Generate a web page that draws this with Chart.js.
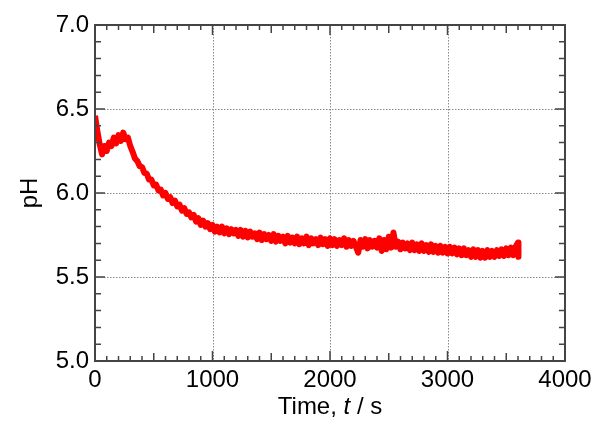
<!DOCTYPE html>
<html><head><meta charset="utf-8">
<script src="https://cdn.jsdelivr.net/npm/chart.js@4/dist/chart.umd.min.js"></script>
<style>html,body{margin:0;padding:0;background:#fff;}</style>
</head><body>
<canvas id="c" width="604" height="422"></canvas>
<script>
const timeS = [0,20,40,60,80,100,120,140,160,180,200,220,240,260,280,300,320,340,360,380,
400,420,440,460,480,500,520,540,560,580,600,620,640,660,680,700,720,740,760,780,
800,820,840,860,880,900,920,940,960,980,1000,1020,1040,1060,1080,1100,1120,1140,1160,1180,
1200,1220,1240,1260,1280,1300,1320,1340,1360,1380,1400,1420,1440,1460,1480,1500,1520,1540,1560,1580,
1600,1620,1640,1660,1680,1700,1720,1740,1760,1780,1800,1820,1840,1860,1880,1900,1920,1940,1960,1980,
2000,2020,2040,2060,2080,2100,2120,2140,2160,2180,2200,2220,2240,2260,2280,2300,2320,2340,2360,2380,
2400,2420,2440,2460,2480,2500,2520,2540,2560,2580,2600,2620,2640,2660,2680,2700,2720,2740,2760,2780,
2800,2820,2840,2860,2880,2900,2920,2940,2960,2980,3000,3020,3040,3060,3080,3100,3120,3140,3160,3180,
3200,3220,3240,3260,3280,3300,3320,3340,3360,3380,3400,3420,3440,3460,3480,3500,3520,3540,3560,3580,
3600,3604];
const pH = [6.46,6.37,6.29,6.23,6.28,6.25,6.30,6.28,6.33,6.295,6.345,6.31,6.36,6.32,6.33,6.28,6.245,6.205,6.19,6.16,
6.155,6.12,6.115,6.08,6.08,6.045,6.05,6.015,6.02,5.985,6.00,5.965,5.975,5.94,5.955,5.92,5.93,5.895,5.91,5.875,
5.885,5.855,5.87,5.83,5.85,5.81,5.835,5.80,5.82,5.785,5.81,5.77,5.80,5.765,5.80,5.76,5.79,5.755,5.785,5.76,
5.78,5.745,5.78,5.74,5.775,5.735,5.77,5.74,5.76,5.725,5.765,5.72,5.755,5.725,5.75,5.715,5.755,5.71,5.745,5.715,
5.74,5.70,5.745,5.705,5.735,5.70,5.74,5.695,5.73,5.70,5.74,5.69,5.73,5.70,5.725,5.69,5.735,5.695,5.725,5.685,
5.73,5.69,5.725,5.685,5.72,5.69,5.73,5.68,5.72,5.685,5.715,5.68,5.645,5.72,5.68,5.725,5.67,5.72,5.68,5.715,
5.675,5.73,5.655,5.72,5.665,5.74,5.675,5.765,5.68,5.71,5.665,5.705,5.67,5.70,5.66,5.705,5.66,5.695,5.655,5.70,
5.655,5.69,5.65,5.695,5.65,5.685,5.645,5.685,5.645,5.68,5.64,5.68,5.64,5.675,5.635,5.67,5.63,5.67,5.63,5.66,
5.62,5.665,5.62,5.66,5.615,5.655,5.615,5.66,5.62,5.655,5.62,5.66,5.625,5.665,5.625,5.67,5.63,5.675,5.63,5.68,
5.705,5.62];
const xTicks = [0,1000,2000,3000,4000];
const yTicks = [5.0,5.5,6.0,6.5,7.0];
const xMinorStep = 100, xMidStep = 500, yMinorStep = 0.1;

const FONT = '"Liberation Sans", Arial, sans-serif';

const framePlugin = {
  id: 'frame',
  beforeDatasetsDraw(chart) {
    const {ctx, chartArea: a, scales: {x, y}} = chart;
    ctx.save();
    ctx.strokeStyle = '#8a8a8a';
    ctx.lineWidth = 1;
    ctx.setLineDash([1.5, 1.5]);
    xTicks.slice(1, -1).forEach(v => {
      const px = Math.round(x.getPixelForValue(v)) + 0.5;
      ctx.beginPath(); ctx.moveTo(px, a.top); ctx.lineTo(px, a.bottom); ctx.stroke();
    });
    yTicks.slice(1, -1).forEach(v => {
      const py = Math.round(y.getPixelForValue(v)) + 0.5;
      ctx.beginPath(); ctx.moveTo(a.left, py); ctx.lineTo(a.right, py); ctx.stroke();
    });
    ctx.restore();
  },
  afterDatasetsDraw(chart) {
    const {ctx, chartArea: a, scales: {x, y}} = chart;
    ctx.save();
    ctx.strokeStyle = '#444';
    ctx.lineWidth = 1.5;
    ctx.setLineDash([]);
    for (let i = 0; i <= 40; i++) {
      const v = i * xMinorStep;
      const px = x.getPixelForValue(v);
      let len = 5;
      if (v % 1000 === 0) len = 10; else if (v % xMidStep === 0) len = 8;
      ctx.beginPath();
      ctx.moveTo(px, a.bottom); ctx.lineTo(px, a.bottom - len);
      ctx.moveTo(px, a.top); ctx.lineTo(px, a.top + len);
      ctx.stroke();
    }
    for (let i = 0; i <= 20; i++) {
      const v = 5 + i * yMinorStep;
      const py = y.getPixelForValue(v);
      const len = (i % 5 === 0) ? 10 : 6;
      ctx.beginPath();
      ctx.moveTo(a.left, py); ctx.lineTo(a.left + len, py);
      ctx.moveTo(a.right, py); ctx.lineTo(a.right - len, py);
      ctx.stroke();
    }
    ctx.lineWidth = 2;
    ctx.strokeRect(a.left, a.top, a.right - a.left, a.bottom - a.top);
    ctx.restore();
  },
  afterDraw(chart) {
    const {ctx, chartArea: a} = chart;
    ctx.save();
    ctx.fillStyle = '#000';
    ctx.font = '24px ' + FONT;
    ctx.textAlign = 'center';
    ctx.textBaseline = 'middle';
    ctx.translate(30, (a.top + a.bottom) / 2);
    ctx.rotate(-Math.PI / 2);
    ctx.fillText('pH', 0, 0);
    ctx.restore();
    ctx.save();
    ctx.fillStyle = '#000';
    ctx.textBaseline = 'alphabetic';
    ctx.textAlign = 'left';
    const parts = [['Time, ', 'normal'], ['t', 'italic'], [' / s', 'normal']];
    let total = 0;
    parts.forEach(p => { ctx.font = p[1] + ' 24px ' + FONT; total += ctx.measureText(p[0]).width; });
    let cx = (a.left + a.right) / 2 - total / 2;
    parts.forEach(p => { ctx.font = p[1] + ' 24px ' + FONT; ctx.fillText(p[0], cx, 414); cx += ctx.measureText(p[0]).width; });
    ctx.restore();
  }
};

new Chart(document.getElementById('c'), {
  type: 'line',
  data: {
    datasets: [{
      data: timeS.map((t, i) => ({x: t, y: pH[i]})),
      borderColor: '#ff0000',
      backgroundColor: '#ff0000',
      borderWidth: 6,
      borderJoinStyle: 'round',
      pointRadius: 0,
      tension: 0,
      fill: false
    }]
  },
  options: {
    responsive: false,
    animation: false,
    devicePixelRatio: 1,
    layout: {padding: {left: 0, right: 39, top: 25, bottom: 0}},
    plugins: {legend: {display: false}, tooltip: {enabled: false}},
    scales: {
      x: {
        type: 'linear', min: 0, max: 4000,
        afterFit: s => { s.height = 61; },
        afterBuildTicks: s => { s.ticks = xTicks.map(v => ({value: v})); },
        ticks: {font: {size: 24, family: FONT}, color: '#000', padding: 5, maxRotation: 0, autoSkip: false,
                callback: v => String(v)},
        grid: {display: false, drawTicks: false},
        border: {display: false}
      },
      y: {
        type: 'linear', min: 5, max: 7,
        afterFit: s => { s.width = 95; },
        afterBuildTicks: s => { s.ticks = yTicks.map(v => ({value: v})); },
        ticks: {font: {size: 24, family: FONT}, color: '#000', padding: 6,
                callback: v => Number(v).toFixed(1)},
        grid: {display: false, drawTicks: false},
        border: {display: false}
      }
    }
  },
  plugins: [framePlugin]
});
</script>
</body></html>
